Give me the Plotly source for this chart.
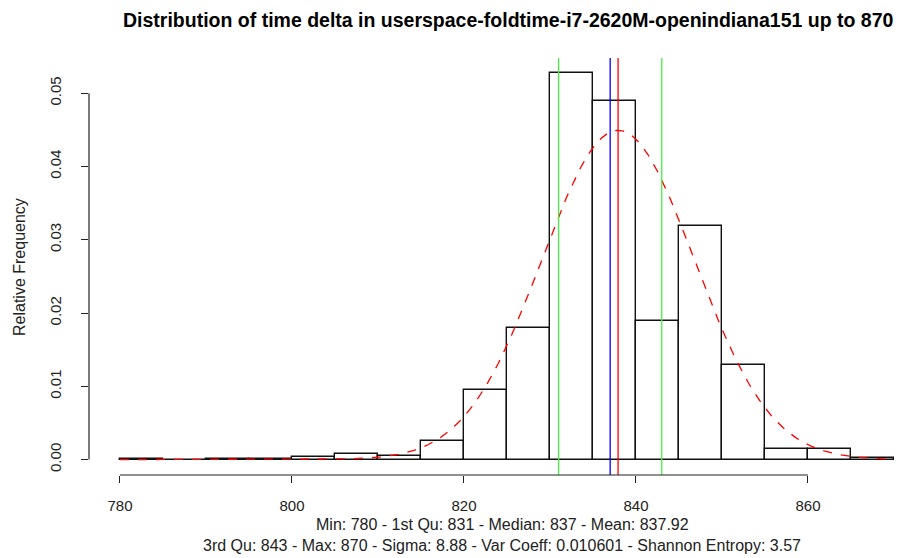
import numpy as np
import plotly.graph_objects as go

# Histogram data (bins of width 5 from 780 to 870)
bin_starts = [780, 785, 790, 795, 800, 805, 810, 815, 820, 825, 830, 835, 840, 845, 850, 855, 860, 865]
rel_freq = [0.00003, 0.0, 0.0001, 0.0001, 0.0003, 0.0007, 0.00045, 0.0026, 0.0095, 0.0179,
            0.0527, 0.0489, 0.0189, 0.0319, 0.0129, 0.0015, 0.0015, 0.0002]
bin_width = 5

# Summary statistics
stat_min = 780
q1 = 831
median = 837
mean = 837.92
q3 = 843
stat_max = 870
sigma = 8.88

x_ticks = [780, 800, 820, 840, 860]
y_ticks = [0.00, 0.01, 0.02, 0.03, 0.04, 0.05]
y_tick_text = ["0.00", "0.01", "0.02", "0.03", "0.04", "0.05"]

title = "Distribution of time delta in userspace-foldtime-i7-2620M-openindiana151 up to 870"
sub1 = "Min: 780 - 1st Qu: 831 - Median: 837 - Mean: 837.92"
sub2 = "3rd Qu: 843 - Max: 870 - Sigma: 8.88 - Var Coeff: 0.010601 - Shannon Entropy: 3.57"

W, H = 907, 558
ML, MR, MT, MB = 89, 0, 58, 83
FONT = "Liberation Sans, Arial, Helvetica, sans-serif"
FS = 16
FT = 15

fig = go.Figure()

centers = [b + bin_width / 2 for b in bin_starts]
fig.add_trace(go.Bar(
    x=centers, y=rel_freq, width=[bin_width] * len(centers),
    marker=dict(color="rgba(255,255,255,0)", line=dict(color="#111111", width=1.4)),
    hoverinfo="skip", showlegend=False,
))

# Fitted normal density curve (mean, sigma)
xs = np.linspace(stat_min, stat_max, 400)
ys = np.exp(-0.5 * ((xs - mean) / sigma) ** 2) / (sigma * np.sqrt(2 * np.pi))
fig.add_trace(go.Scatter(
    x=xs, y=ys, mode="lines",
    line=dict(color="#ff0000", width=1.3, dash="dash"),
    hoverinfo="skip", showlegend=False,
))

# Vertical lines: quartiles (green), median (blue), mean (red)
for xv, col in [(q1, "#44f044"), (q3, "#44f044"), (median, "#0000ff"), (mean, "#ff0000")]:
    fig.add_shape(type="line", xref="x", yref="paper", x0=xv, x1=xv, y0=0, y1=1,
                  line=dict(color=col, width=1.3))

# R-style axis lines spanning tick range only
fig.add_shape(type="line", xref="x", yref="paper", x0=min(x_ticks), x1=max(x_ticks), y0=0, y1=0,
              line=dict(color="#222222", width=1.2))
fig.add_shape(type="line", xref="paper", yref="y", x0=0, x1=0, y0=min(y_ticks), y1=max(y_ticks),
              line=dict(color="#222222", width=1.2))

xr = [776.4, 776.4 + (W - ML - MR) / 8.6]
yr = [-0.0021, 0.0548]

fig.update_layout(
    width=W, height=H,
    margin=dict(l=ML, r=MR, t=MT, b=MB),
    paper_bgcolor="white", plot_bgcolor="white",
    font=dict(family=FONT, size=FS, color="#222222"),
    bargap=0,
    xaxis=dict(range=xr, tickvals=x_ticks, ticktext=[str(t) for t in x_ticks],
               ticks="outside", ticklen=7, tickwidth=1.2, tickcolor="#222222",
               showgrid=False, zeroline=False, showline=False,
               ticklabelstandoff=10, tickfont=dict(size=FT)),
    yaxis=dict(range=yr, tickvals=y_ticks, ticktext=y_tick_text,
               ticks="outside", ticklen=7, tickwidth=1.2, tickcolor="#222222",
               showgrid=False, zeroline=False, showline=False, tickangle=-90,
               ticklabelstandoff=14, tickfont=dict(size=FT)),
)

pw = W - ML - MR
ph = H - MT - MB

def px_x(p):
    return (p - ML) / pw

def px_y(p):
    return 1 - (p - MT) / ph

fig.add_annotation(text="<b>" + title + "</b>", xref="paper", yref="paper",
                   x=px_x(508), y=px_y(20), xanchor="center", yanchor="middle",
                   showarrow=False, font=dict(size=19.5, color="#000000"))
fig.add_annotation(text="Relative Frequency", xref="paper", yref="paper",
                   x=px_x(19), y=px_y(267), xanchor="center", yanchor="middle",
                   textangle=-90, showarrow=False, font=dict(size=FS, color="#222222"))
fig.add_annotation(text=sub1, xref="paper", yref="paper",
                   x=px_x(502), y=px_y(524), xanchor="center", yanchor="middle",
                   showarrow=False, font=dict(size=FS, color="#222222"))
fig.add_annotation(text=sub2, xref="paper", yref="paper",
                   x=px_x(502), y=px_y(545), xanchor="center", yanchor="middle",
                   showarrow=False, font=dict(size=FS, color="#222222"))

fig.write_html("out.html", config={"displayModeBar": False},
               post_script="document.body.style.margin='0';document.body.style.padding='0';")
